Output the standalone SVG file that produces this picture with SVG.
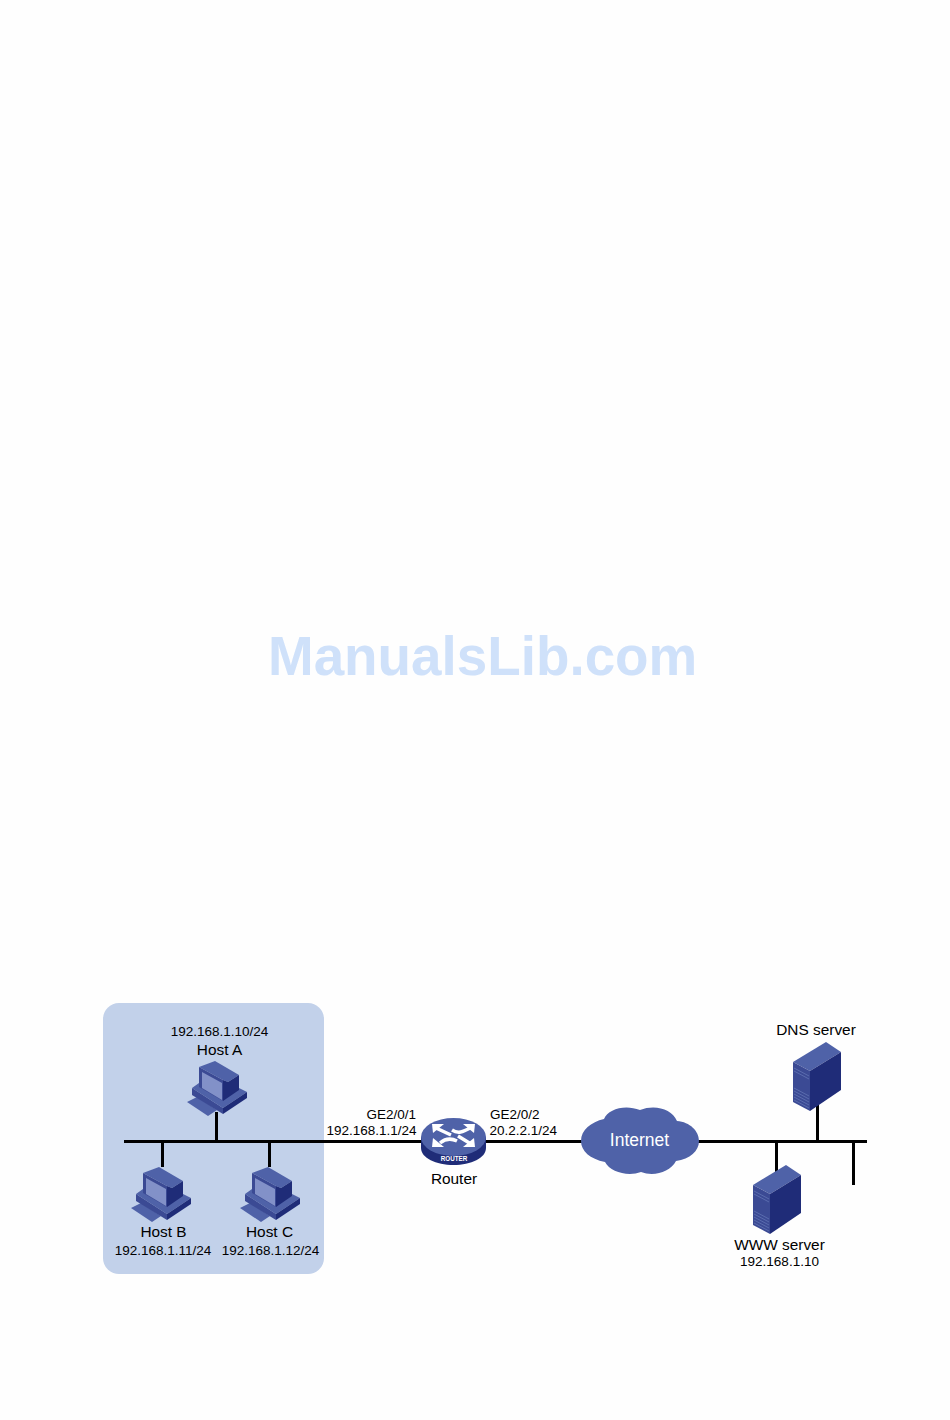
<svg xmlns="http://www.w3.org/2000/svg" width="950" height="1420" viewBox="0 0 950 1420">
<style>
text{font-family:"Liberation Sans",Arial,sans-serif;fill:#000}
.s{font-size:13.5px}
.l{font-size:15.4px}
.m{text-anchor:middle}
.e{text-anchor:end}
.wire{stroke:#000;stroke-width:3;fill:none}
.top{fill:#4f62a8}
.front{fill:#3b4a94}
.side{fill:#1f2c78}
.screen{fill:#8291c8}
.arrow{fill:#fff}
.shaft{fill:none;stroke:#fff;stroke-width:3.500}
.grill{fill:none;stroke:#5a6cae;stroke-width:1}
</style>
<defs>
<g id="pc">
<polygon class="top" points="0,41 10,36 30,49 21,55"/>
<polygon class="top" points="5,27 12,22 36,37 52,27 60,31 36,47"/>
<polygon class="front" points="5,27 36,47 36,53 5,34"/>
<polygon class="side" points="36,47 60,31 60,37 36,53"/>
<polygon class="top" points="12,6 28,0 52,14 41,21 36,19"/>
<polygon class="side" points="36,19 41,21 52,14 52,29 36,40"/>
<polygon class="front" points="12,6 36,19 36,40 12,26"/>
<polygon class="screen" points="15,11 35,22 35,39 15,27"/>
</g>
<g id="srv">
<polygon class="top" points="0,20 33,0 48,10 17,29"/>
<polygon class="side" points="17,29 48,10 48,48 17,69"/>
<polygon class="front" points="0,20 17,29 17,69 0,60"/>
<path class="grill" d="M1,26L16,34M1,29L16,37M1,46L16,54M1,49L16,57M1,52L16,60M1,55L16,63M1,58L16,66"/>
</g>
</defs>
<rect width="950" height="1420" fill="#fefefe"/>
<text id="watermark" x="268" y="675" font-size="54.800" font-weight="bold" style="fill:#cfe1fa">ManualsLib.com</text>
<rect id="lan" x="103" y="1003" width="221" height="271" rx="16" fill="#c2d1ea"/>
<g id="connectors" class="wire">
<line x1="124" y1="1141.500" x2="867" y2="1141.500"/>
<line x1="216.500" y1="1112" x2="216.500" y2="1141"/>
<line x1="162.500" y1="1141" x2="162.500" y2="1167"/>
<line x1="269.500" y1="1141" x2="269.500" y2="1167"/>
<line x1="817.500" y1="1105" x2="817.500" y2="1141"/>
<line x1="776.500" y1="1141" x2="776.500" y2="1172"/>
<line x1="853.500" y1="1141" x2="853.500" y2="1185"/>
</g>
<g id="hostA"><use href="#pc" x="187" y="1061"/>
<text class="s m" x="219.500" y="1036">192.168.1.10/24</text><text class="l m" x="219.500" y="1055">Host A</text></g>
<g id="hostB"><use href="#pc" x="131" y="1167"/>
<text class="l m" x="163.500" y="1237">Host B</text><text class="s m" x="163" y="1255">192.168.1.11/24</text></g>
<g id="hostC"><use href="#pc" x="240" y="1167"/>
<text class="l m" x="269.500" y="1237">Host C</text><text class="s m" x="270.500" y="1255">192.168.1.12/24</text></g>
<g id="router">
<path d="M421,1137V1148C421,1158 436,1165 453.500,1165S486,1158 486,1148V1137Z" fill="#1f2c78"/>
<ellipse cx="453.500" cy="1137" rx="32.500" ry="19" fill="#4f62a8"/>
<g class="arrow">
<polygon points="432,1124 444,1124 433,1133"/>
<polygon points="475,1124 463,1124 474,1133"/>
<polygon points="432,1147 444,1147 433,1138"/>
<polygon points="475,1147 463,1147 474,1138"/>
</g>
<path class="shaft" d="M436,1128L451,1135M452,1130C458,1134 463,1132 470,1128M440,1143C446,1138 451,1138 457,1141M458,1136L471,1144"/>
<text x="454" y="1161" font-size="6.300" font-weight="bold" text-anchor="middle" style="fill:#fff">ROUTER</text>
<text class="l m" x="454" y="1184">Router</text>
</g>
<g id="labels">
<text class="s e" x="416" y="1119">GE2/0/1</text>
<text class="s e" x="416.500" y="1135">192.168.1.1/24</text>
<text class="s" x="490" y="1119">GE2/0/2</text>
<text class="s" x="489.500" y="1135">20.2.2.1/24</text>
</g>
<g id="internet">
<path d="M604,1119C608,1109 625,1104 640,1110C655,1104 672,1109 677,1121C690,1122 699,1131 699,1141C699,1151 690,1159 676,1161C670,1172 654,1177 641,1172C628,1177 610,1172 605,1162C590,1159 581,1151 581,1141C581,1130 591,1122 604,1119Z" fill="#4f62a8"/>
<text x="639.500" y="1146" font-size="17.500" text-anchor="middle" style="fill:#fff">Internet</text>
</g>
<g id="dns"><use href="#srv" x="793" y="1042"/><text class="l m" x="816" y="1035">DNS server</text></g>
<g id="www"><use href="#srv" x="753" y="1165"/>
<text class="l m" x="779.500" y="1250">WWW server</text><text class="s m" x="779.500" y="1266">192.168.1.10</text></g>
</svg>
